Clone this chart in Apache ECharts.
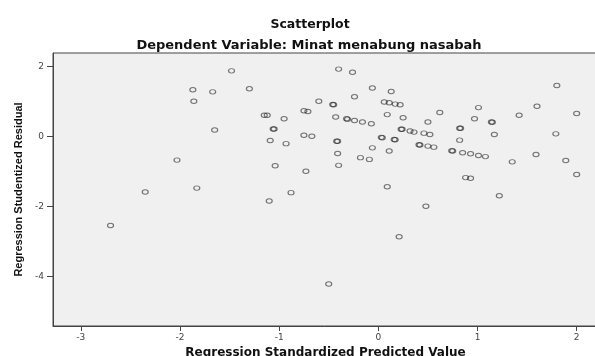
<!DOCTYPE html>
<html>
<head>
  <meta charset="utf-8">
  <style>
    html, body { margin: 0; padding: 0; width: 100%; height: 100%; overflow: hidden; background: #fff; }
  </style>
  <script src="https://cdn.jsdelivr.net/npm/echarts@6/dist/echarts.min.js"></script>
</head>
<body>
  <div id="container" style="width: 595px; height: 356px;"></div>
  <script>
    // predicted (standardized) values, x axis
    const predicted = [
      -2.70, -2.35, -2.03, -1.87, -1.86, -1.83, -1.67, -1.65, -1.48, -1.30,
      -1.15, -1.12, -1.10, -1.09, -1.06, -1.05, -1.04, -0.95, -0.93, -0.88,
      -0.75, -0.71, -0.75, -0.67, -0.73, -0.60, -0.46, -0.45, -0.43, -0.42,
      -0.41, -0.41, -0.40, -0.40, -0.50, -0.32, -0.31, -0.26, -0.24, -0.24,
      -0.18, -0.16, -0.09, -0.07, -0.06, -0.06, 0.03, 0.04, 0.09, 0.06,
      0.11, 0.16, 0.17, 0.11, 0.09, 0.13, 0.17, 0.22, 0.21, 0.25,
      0.23, 0.24, 0.32, 0.36, 0.42, 0.41, 0.46, 0.48, 0.50, 0.50,
      0.52, 0.56, 0.62, 0.75, 0.74, 0.82, 0.83, 0.82, 0.85, 0.88,
      0.93, 0.93, 0.97, 1.01, 1.01, 1.08, 1.15, 1.14, 1.17, 1.22,
      1.35, 1.42, 1.59, 1.60, 1.80, 1.79, 1.89, 2.00, 2.00
    ];
    // studentized residuals, y axis
    const residual = [
      -2.54, -1.58, -0.67, 1.34, 1.01, -1.47, 1.28, 0.19, 1.88, 1.37,
      0.61, 0.61, -1.84, -0.11, 0.22, 0.22, -0.83, 0.51, -0.20, -1.60,
      0.74, 0.72, 0.04, 0.01, -0.99, 1.01, 0.92, 0.91, 0.56, -0.13,
      -0.13, -0.48, -0.82, 1.93, -4.21, 0.51, 0.50, 1.84, 1.14, 0.46,
      -0.60, 0.42, -0.65, 0.37, 1.39, -0.32, -0.02, -0.03, 0.63, 0.99,
      0.97, -0.08, -0.09, -0.41, -1.43, 1.29, 0.93, 0.91, -2.86, 0.54,
      0.21, 0.21, 0.16, 0.13, -0.24, -0.23, 0.10, -1.99, 0.42, -0.27,
      0.06, -0.30, 0.69, -0.41, -0.40, 0.24, 0.24, -0.10, -0.46, -1.17,
      -1.19, -0.49, 0.51, 0.83, -0.54, -0.57, 0.41, 0.42, 0.06, -1.69,
      -0.72, 0.61, -0.51, 0.87, 1.46, 0.08, -0.68, 0.66, -1.08
    ];
    const xTicks = [-3, -2, -1, 0, 1, 2];
    const yTicks = [-4, -2, 0, 2];

    const points = predicted.map((x, i) => [x, residual[i]]);

    const chart = echarts.init(document.getElementById('container'), null, { renderer: 'canvas' });

    const boldFont = '"DejaVu Sans", sans-serif';
    const labelStyle = { color: '#444', fontSize: 9, fontFamily: '"DejaVu Sans", sans-serif' };

    const option = {
      animation: false,
      title: [
        {
          text: 'Scatterplot',
          left: 305, top: 13, textAlign: 'center',
          textStyle: { fontSize: 12.5, fontWeight: 'bold', color: '#111', fontFamily: boldFont }
        },
        {
          text: 'Dependent Variable: Minat menabung nasabah',
          left: 304, top: 34, textAlign: 'center',
          textStyle: { fontSize: 13, fontWeight: 'bold', color: '#111', fontFamily: boldFont }
        }
      ],
      grid: {
        left: 53, top: 53, right: -3, bottom: 30,
        outerBoundsMode: 'none',
        containLabel: false,
        show: true,
        backgroundColor: '#f0f0f0',
        borderColor: '#444',
        borderWidth: 1
      },
      xAxis: {
        type: 'value',
        min: -3.28, max: 2.215,
        name: 'Regression Standardized Predicted Value',
        nameLocation: 'middle',
        nameGap: 21,
        nameTextStyle: { fontSize: 12, fontWeight: 'bold', color: '#111', fontFamily: boldFont },
        axisLine: { show: true, onZero: false, lineStyle: { color: '#444' } },
        axisTick: { show: true, length: 5, customValues: xTicks, lineStyle: { color: '#444' } },
        axisLabel: Object.assign({ margin: 7, customValues: xTicks }, labelStyle),
        splitLine: { show: false }
      },
      yAxis: {
        type: 'value',
        min: -5.41, max: 2.39,
        name: 'Regression Studentized Residual',
        nameLocation: 'middle',
        nameGap: 28,
        nameTextStyle: { fontSize: 11, fontWeight: 'bold', color: '#111', fontFamily: '"Liberation Sans", Arial, sans-serif' },
        axisLine: { show: true, onZero: false, lineStyle: { color: '#444' } },
        axisTick: { show: true, length: 6, customValues: yTicks, lineStyle: { color: '#444' } },
        axisLabel: Object.assign({ margin: 9, customValues: yTicks }, labelStyle),
        splitLine: { show: false }
      },
      series: [
        {
          type: 'scatter',
          data: points,
          symbol: 'circle',
          symbolSize: [6, 4.5],
          itemStyle: {
            color: 'rgba(0,0,0,0)',
            borderColor: 'rgba(30,30,30,0.75)',
            borderWidth: 1
          },
          emphasis: { disabled: true }
        }
      ]
    };

    chart.setOption(option);
  </script>
</body>
</html>
